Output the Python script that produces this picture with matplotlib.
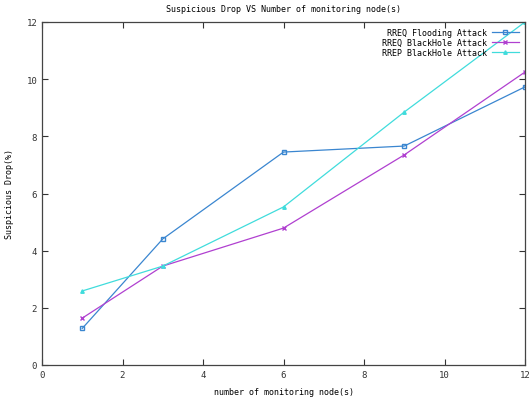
import matplotlib
matplotlib.use("Agg")
import matplotlib.pyplot as plt

x = [1, 3, 6, 9, 12]
flooding = [1.28, 4.41, 7.45, 7.66, 9.73]
rreq_bh = [1.64, 3.46, 4.79, 7.35, 10.25]
rrep_bh = [2.59, 3.46, 5.53, 8.85, 12.0]
labels = ["RREQ Flooding Attack", "RREQ BlackHole Attack", "RREP BlackHole Attack"]

plt.rcParams['font.family'] = 'DejaVu Sans Mono'
fig = plt.figure(figsize=(5.31, 4.02), dpi=100)
ax = fig.add_axes([42/531, 1-366/402, (525-42)/531, (366-23)/402])

ax.plot(x, flooding, color='#3a86d0', marker='s', markersize=3.5, mfc='none', lw=0.9, label=labels[0])
ax.plot(x, rreq_bh, color='#b040d0', marker='x', markersize=3.5, lw=0.9, label=labels[1])
ax.plot(x, rrep_bh, color='#40dcdc', marker='^', markersize=2.5, lw=0.9, label=labels[2])

ax.set_xlim(0, 12)
ax.set_ylim(0, 12)
ax.set_xticks(range(0, 13, 2))
ax.set_yticks(range(0, 13, 2))
ax.tick_params(direction='in', top=True, right=True, labelsize=6.5, length=4, width=0.8, colors='#333333')
for s in ax.spines.values():
    s.set_linewidth(0.9)
    s.set_color('#444444')
ax.set_title("Suspicious Drop VS Number of monitoring node(s)", fontsize=6, pad=8)
ax.set_xlabel("number of monitoring node(s)", fontsize=6, labelpad=6)
ax.set_ylabel("Suspicious Drop(%)", fontsize=6)
ax.yaxis.set_label_coords(-0.058, 0.5)
leg = ax.legend(loc='upper right', frameon=False, fontsize=6, markerfirst=False,
                handlelength=3.3, labelspacing=0.12, borderaxespad=0.3, handletextpad=0.6,
                borderpad=0.4)
for t in leg.get_texts():
    t.set_ha('right')
fig.savefig("out.png", dpi=100)
